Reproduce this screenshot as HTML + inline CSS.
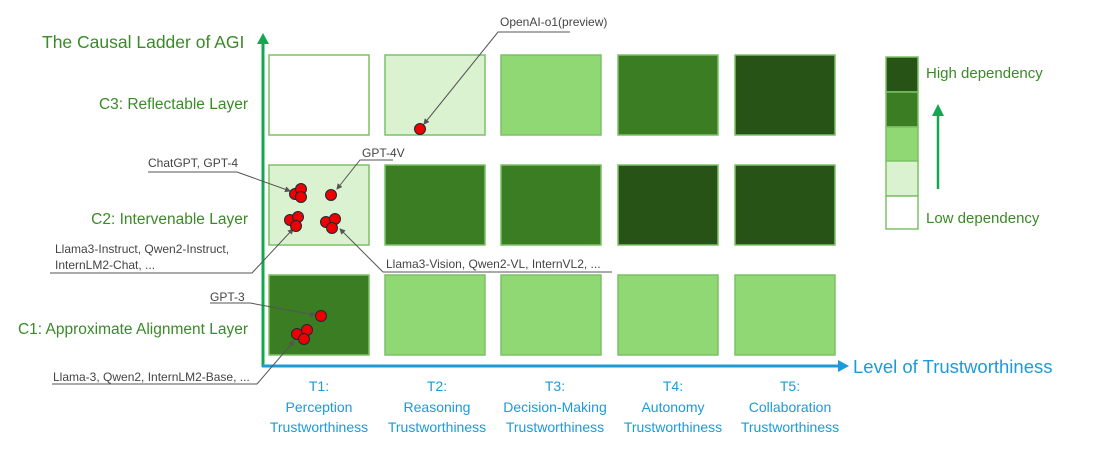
<!DOCTYPE html>
<html><head><meta charset="utf-8"><style>
html,body{margin:0;padding:0;background:#fff;width:1106px;height:452px;overflow:hidden}
svg text{font-family:"Liberation Sans",sans-serif}
</style></head><body>
<svg width="1106" height="452" viewBox="0 0 1106 452" xmlns="http://www.w3.org/2000/svg">
<defs>
<marker id="sm" markerWidth="6" markerHeight="6" refX="5" refY="3" orient="auto"><path d="M0,0 L6,3 L0,6z" fill="#555"/></marker>
</defs>
<g stroke="#7cc166" stroke-width="1.5">
<rect x="269" y="55" width="100" height="80" fill="#fff"/>
<rect x="385" y="55" width="100" height="80" fill="#daf2d0"/>
<rect x="501" y="55" width="100" height="80" fill="#8fd873"/>
<rect x="618" y="55" width="100" height="80" fill="#3b7d23"/>
<rect x="735" y="55" width="100" height="80" fill="#275317"/>
<rect x="269" y="165" width="100" height="80" fill="#daf2d0"/>
<rect x="385" y="165" width="100" height="80" fill="#3b7d23"/>
<rect x="501" y="165" width="100" height="80" fill="#3b7d23"/>
<rect x="618" y="165" width="100" height="80" fill="#275317"/>
<rect x="735" y="165" width="100" height="80" fill="#275317"/>
<rect x="269" y="275" width="100" height="80" fill="#3b7d23"/>
<rect x="385" y="275" width="100" height="80" fill="#8fd873"/>
<rect x="501" y="275" width="100" height="80" fill="#8fd873"/>
<rect x="618" y="275" width="100" height="80" fill="#8fd873"/>
<rect x="735" y="275" width="100" height="80" fill="#8fd873"/>
<rect x="886" y="57" width="32" height="35" fill="#275317"/>
<rect x="886" y="92" width="32" height="35" fill="#3b7d23"/>
<rect x="886" y="127" width="32" height="34" fill="#8fd873"/>
<rect x="886" y="161" width="32" height="35" fill="#daf2d0"/>
<rect x="886" y="196" width="32" height="33" fill="#fff"/>
</g>
<line x1="263" y1="367" x2="263" y2="42" stroke="#13a84f" stroke-width="3"/>
<path d="M257,44 L263,33 L269,44z" fill="#13a84f"/>
<line x1="262" y1="366" x2="840" y2="366" stroke="#1b9bd7" stroke-width="3"/>
<path d="M838,360 L849,366 L838,372z" fill="#1b9bd7"/>
<line x1="938" y1="189" x2="938" y2="114" stroke="#13a84f" stroke-width="2.5"/>
<path d="M932,116 L938,104 L944,116z" fill="#13a84f"/>
<g fill="#3a8a28">
<text x="42" y="48" font-size="17.5">The Causal Ladder of AGI</text>
<text x="248" y="109" font-size="15.5" text-anchor="end">C3: Reflectable Layer</text>
<text x="248" y="224" font-size="15.5" text-anchor="end">C2: Intervenable Layer</text>
<text x="248" y="334" font-size="15.5" text-anchor="end">C1: Approximate Alignment Layer</text>
<text x="926" y="78" font-size="15">High dependency</text>
<text x="926" y="223" font-size="15">Low dependency</text>
</g>
<g fill="#1b9bd7" font-size="14" text-anchor="middle">
<text x="853" y="373" font-size="18.5" text-anchor="start">Level of Trustworthiness</text>
<text x="319" y="391">T1:</text><text x="319" y="412">Perception</text><text x="319" y="432">Trustworthiness</text>
<text x="437" y="391">T2:</text><text x="437" y="412">Reasoning</text><text x="437" y="432">Trustworthiness</text>
<text x="555" y="391">T3:</text><text x="555" y="412">Decision-Making</text><text x="555" y="432">Trustworthiness</text>
<text x="673" y="391">T4:</text><text x="673" y="412">Autonomy</text><text x="673" y="432">Trustworthiness</text>
<text x="790" y="391">T5:</text><text x="790" y="412">Collaboration</text><text x="790" y="432">Trustworthiness</text>
</g>
<g fill="#444" font-size="12">
<text x="500" y="26">OpenAI-o1(preview)</text>
<text x="148" y="167">ChatGPT, GPT-4</text>
<text x="362" y="157">GPT-4V</text>
<text x="55" y="253">Llama3-Instruct, Qwen2-Instruct,</text>
<text x="55" y="269">InternLM2-Chat, ...</text>
<text x="386" y="268">Llama3-Vision,  Qwen2-VL, InternVL2, ...</text>
<text x="210" y="301">GPT-3</text>
<text x="53" y="381">Llama-3, Qwen2, InternLM2-Base, ...</text>
</g>
<g stroke="#555" stroke-width="1" fill="none" marker-end="url(#sm)">
<path d="M570,32 L498,32 L424,124"/>
<path d="M148,172 L237,172 L290,191"/>
<path d="M393,160 L360,160 L337,189"/>
<path d="M50,273 L252,273 L293,229"/>
<path d="M612,272 L383,272 L340,229"/>
<path d="M210,303 L250,303 L315,315"/>
<path d="M52,384 L257,384 L294,341"/>
</g>
<g fill="#ee0000" stroke="#1a2a3a" stroke-width="1">
<circle cx="420" cy="129" r="5.5"/>
<circle cx="295" cy="194" r="5.5"/><circle cx="301" cy="189" r="5.5"/><circle cx="301" cy="197" r="5.5"/>
<circle cx="331" cy="195" r="5.5"/>
<circle cx="290" cy="220" r="5.5"/><circle cx="298" cy="217" r="5.5"/><circle cx="296" cy="226" r="5.5"/>
<circle cx="326" cy="222" r="5.5"/><circle cx="335" cy="219" r="5.5"/><circle cx="332" cy="228" r="5.5"/>
<circle cx="321" cy="316" r="5.5"/>
<circle cx="297" cy="334" r="5.5"/><circle cx="307" cy="330" r="5.5"/><circle cx="304" cy="339" r="5.5"/>
</g>
</svg>
</body></html>
